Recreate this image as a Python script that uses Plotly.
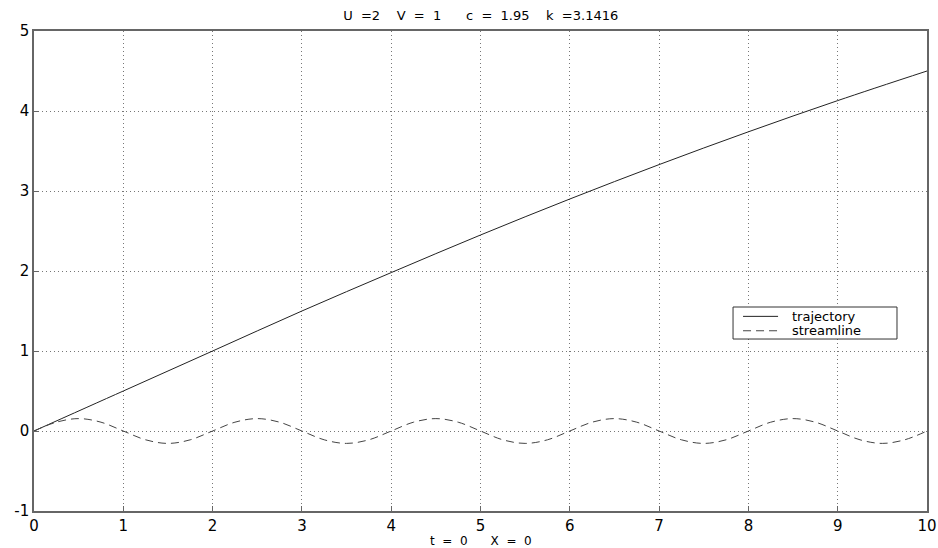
import plotly.graph_objects as go

t_traj = [0, 1, 2, 3, 4, 5, 6, 7, 8, 9, 10]
y_traj = [0, 0.5, 1.0, 1.5, 1.98, 2.45, 2.9, 3.33, 3.74, 4.13, 4.5]

t_stream = [i * 0.25 for i in range(41)]
y_stream = [0, 0.11, 0.155, 0.11, 0, -0.11, -0.155, -0.11] * 5 + [0]

x_ticks = list(range(0, 11))
y_ticks = list(range(-1, 6))

series_names = ["trajectory", "streamline"]
title_text = "U =2  V = 1   c = 1.95  k =3.1416"
xlabel_text = "t = 0   X = 0"


def wide(s):
    # MATLAB-style wide spaces
    return s.replace(" ", "\u00a0\u00a0")


traj_line = dict(color="#222222", width=1)
stream_line = dict(color="#444444", width=1, dash="8px,5px")

fig = go.Figure()
fig.add_trace(go.Scatter(x=t_traj, y=y_traj, mode="lines", name=series_names[0],
                         line=dict(**traj_line, shape="spline"), showlegend=False))
fig.add_trace(go.Scatter(x=t_stream, y=y_stream, mode="lines", name=series_names[1],
                         line=dict(**stream_line, shape="spline"), showlegend=False))

font_family = "DejaVu Sans, Verdana, sans-serif"

# MATLAB-style legend box (paper coordinates)
lg_x0, lg_x1, lg_y0, lg_y1 = 0.7828, 0.9664, 0.3583, 0.425
row_y = [0.4055, 0.3755]
shapes = [dict(type="rect", xref="paper", yref="paper", x0=lg_x0, x1=lg_x1, y0=lg_y0, y1=lg_y1,
               line=dict(color="#333333", width=1), fillcolor="white", layer="above")]
annotations = []
for name, ly, ln in zip(series_names, row_y, [traj_line, stream_line]):
    shapes.append(dict(type="line", xref="paper", yref="paper", x0=0.794, x1=0.8332,
                       y0=ly, y1=ly, line=ln, layer="above"))
    annotations.append(dict(text=name, xref="paper", yref="paper", x=0.8466, y=ly,
                            xanchor="left", yanchor="middle", showarrow=False,
                            font=dict(size=13, family=font_family, color="black")))
annotations.append(dict(text=wide(xlabel_text), xref="paper", yref="paper",
                        x=0.5, y=-0.0625, xanchor="center", yanchor="middle",
                        showarrow=False, font=dict(size=12, family=font_family)))

fig.update_layout(
    width=938, height=548,
    margin=dict(l=34, r=11, t=31, b=37),
    paper_bgcolor="white", plot_bgcolor="white",
    font=dict(family=font_family, color="black", size=15),
    title=dict(text=wide(title_text), x=0.5125, xanchor="center", y=0.9726, yanchor="middle",
               font=dict(size=13, family=font_family)),
    showlegend=False,
    shapes=shapes,
    annotations=annotations,
)
axis_common = dict(showgrid=True, gridcolor="#777777", griddash="1px,3px", gridwidth=1,
                   zeroline=False, showline=True, linecolor="#666666", linewidth=1.5,
                   mirror=True, ticks="inside", ticklen=5, tickcolor="#666666",
                   automargin=False, tickfont=dict(size=15))
fig.update_xaxes(range=[0, 10], tickvals=x_ticks, ticktext=[str(v) for v in x_ticks],
                 **axis_common)
fig.update_yaxes(range=[-1, 5], tickvals=y_ticks, ticktext=[str(v) for v in y_ticks],
                 **axis_common)

fig.write_html("out.html", config={"displayModeBar": False},
               post_script="document.body.style.margin='0';")
